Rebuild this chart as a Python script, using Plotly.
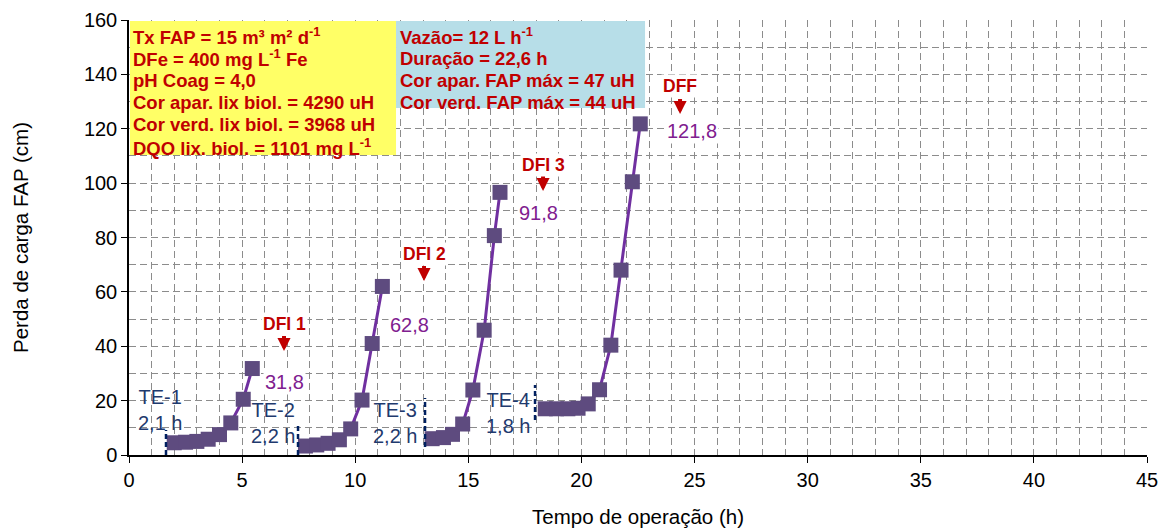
import plotly.graph_objects as go

# ---- data ----
t1 = [2.0, 2.5, 3.0, 3.5, 4.0, 4.5, 5.05, 5.45]
h1 = [4.5, 4.7, 5.0, 5.8, 7.5, 11.8, 20.5, 31.8]
t2 = [7.8, 8.3, 8.8, 9.3, 9.8, 10.3, 10.75, 11.2]
h2 = [3.3, 3.7, 4.3, 5.6, 9.6, 20.2, 41.0, 62.0]
t3 = [13.4, 13.9, 14.3, 14.75, 15.2, 15.7, 16.15, 16.4]
h3 = [6.0, 6.4, 7.6, 11.4, 23.9, 45.9, 80.7, 96.6]
t4 = [18.4, 18.9, 19.4, 19.85, 20.3, 20.8, 21.3, 21.75, 22.25, 22.6]
h4 = [17.0, 17.0, 17.0, 17.2, 18.8, 24.0, 40.4, 68.0, 100.5, 121.8]

runs = [(t1, h1), (t2, h2), (t3, h3), (t4, h4)]

# stage markers
dfi_labels = ["DFI 1", "DFI 2", "DFI 3", "DFF"]
dfi_values = ["31,8", "62,8", "91,8", "121,8"]
te_labels = ["TE-1<br>2,1 h", "TE-2<br>2,2 h", "TE-3<br>2,2 h", "TE-4<br>1,8 h"]

box1_lines = [
    "Tx FAP = 15 m³ m² d<sup>-1</sup>",
    "DFe = 400 mg L<sup>-1</sup> Fe",
    "pH Coag = 4,0",
    "Cor apar. lix biol. = 4290 uH",
    "Cor verd. lix biol. = 3968 uH",
    "DQO lix. biol. = 1101 mg L<sup>-1</sup>",
]
box2_lines = [
    "Vazão= 12 L h<sup>-1</sup>",
    "Duração = 22,6 h",
    "Cor apar. FAP máx = 47 uH",
    "Cor verd. FAP máx = 44 uH",
]

FONT = "Liberation Sans"
RED = "#C00000"
PURPLE_TXT = "#80208F"
NAVY = "#1F3A6E"

fig = go.Figure()
for tt, hh in runs:
    fig.add_trace(go.Scatter(
        x=tt, y=hh, mode="lines+markers",
        line=dict(color="#7030A0", width=3),
        marker=dict(symbol="square", size=15, color="#5E4B7F"),
        showlegend=False, hoverinfo="skip"))

# pixel -> data helpers for text placement
def X(px):
    return (px - 129) / 22.62

def Y(py):
    return (455 - py) / 2.719

shapes = [
    dict(type="rect", xref="x", yref="y", x0=X(130), x1=X(396), y0=Y(155), y1=Y(21),
         fillcolor="#FFFF66", line=dict(width=0), layer="above"),
    dict(type="rect", xref="x", yref="y", x0=X(396), x1=X(645), y0=Y(108), y1=Y(21),
         fillcolor="#B7DEE8", line=dict(width=0), layer="above"),
]
# TE dashed markers
te_lines = [(166, 430, 455), (298, 423, 455), (425, 398, 447), (535, 385, 420)]
for px, y0, y1 in te_lines:
    shapes.append(dict(type="line", xref="x", yref="y", x0=X(px), x1=X(px), y0=Y(y1), y1=Y(y0),
                       line=dict(color="#002060", width=2.5, dash="5px,3px")))

ann = []
for i, s in enumerate(box1_lines):
    ann.append(dict(x=X(131), y=Y(36 + 22.2 * i), text="<b>" + s + "</b>", showarrow=False,
                    xanchor="left", yanchor="middle", font=dict(family=FONT, size=18.5, color=RED)))
for i, s in enumerate(box2_lines):
    ann.append(dict(x=X(398), y=Y(36 + 22 * i), text="<b>" + s + "</b>", showarrow=False,
                    xanchor="left", yanchor="middle", font=dict(family=FONT, size=18.5, color=RED)))

dfi_pos = [(284, 324, 351, 284, 382), (424, 254, 281, 409, 325),
           (543, 165, 191, 538, 213), (680, 86, 114, 692, 131)]
for lab, val, (px, ty, ay, vx, vy) in zip(dfi_labels, dfi_values, dfi_pos):
    ann.append(dict(x=X(px), y=Y(ty), text="<b>" + lab + "</b>", showarrow=False,
                    bgcolor="white", font=dict(family=FONT, size=17.5, color=RED)))
    # arrow shaft + head
    shapes.append(dict(type="line", xref="x", yref="y", x0=X(px), x1=X(px),
                       y0=Y(ay - 15), y1=Y(ay - 6), line=dict(color=RED, width=4)))
    ann.append(dict(x=X(px), y=Y(ay), text=" ", showarrow=True, ax=0, ay=-14,
                    font=dict(size=1), borderpad=0, standoff=0,
                    arrowhead=2, arrowsize=0.75, arrowwidth=3.5, arrowcolor=RED))
    ann.append(dict(x=X(vx), y=Y(vy), text=val, showarrow=False, bgcolor="white",
                    font=dict(family=FONT, size=20, color=PURPLE_TXT)))

te_pos = [(160, 410), (273, 423), (395, 423), (508, 413)]
for lab, (px, py) in zip(te_labels, te_pos):
    ann.append(dict(x=X(px), y=Y(py), text=lab, showarrow=False,
                    font=dict(family=FONT, size=20, color=NAVY)))

grid = dict(gridcolor="#8C8C8C", griddash="7px,4px", gridwidth=1)
fig.update_layout(
    width=1161, height=528,
    margin=dict(l=129, r=14, t=20, b=73),
    paper_bgcolor="white", plot_bgcolor="white",
    font=dict(family=FONT, size=20, color="black"),
    shapes=shapes, annotations=ann, showlegend=False,
    xaxis=dict(range=[0, 45], dtick=5, tick0=0, showgrid=True, **grid,
               minor=dict(dtick=1, showgrid=True, **grid),
               showline=True, linecolor="black", linewidth=1.5,
               ticks="outside", ticklen=6, tickcolor="black", automargin=False,
               tickfont=dict(family=FONT, size=20), zeroline=False,
               title=dict(text="Tempo de operação (h)", font=dict(family=FONT, size=20.5), standoff=24)),
    yaxis=dict(range=[0, 160], dtick=20, tick0=0, showgrid=True, **grid,
               minor=dict(dtick=10, showgrid=True, **grid),
               showline=True, linecolor="black", linewidth=1.5,
               ticks="outside", ticklen=6, tickcolor="black", automargin=False,
               tickfont=dict(family=FONT, size=20), zeroline=False,
               title=dict(text="Perda de carga FAP (cm)", font=dict(family=FONT, size=20.5), standoff=50)),
)

fig.write_html("out.html")
